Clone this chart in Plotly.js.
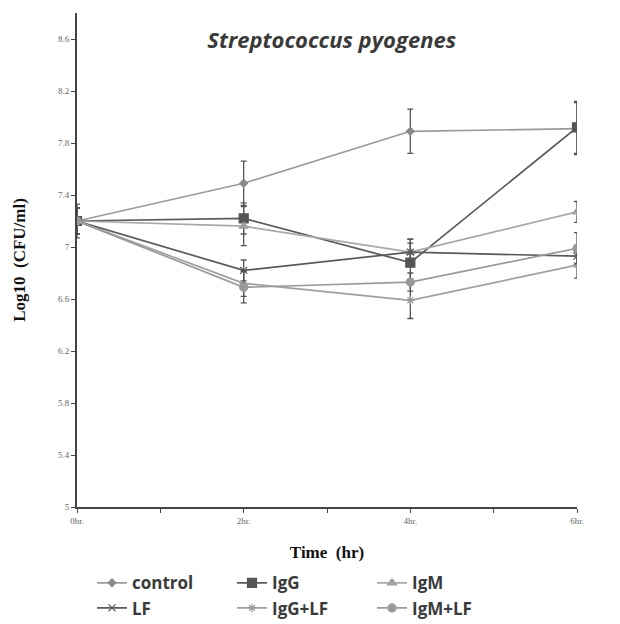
<!DOCTYPE html>
<html>
<head>
<meta charset="utf-8">
<script src="https://cdn.plot.ly/plotly-3.0.1.min.js"></script>
<style>html,body{margin:0;padding:0;background:#fff;}#chart{width:620px;height:624px;}</style>
</head>
<body>
<div id="chart"></div>
<script>
// Data
const hours = [0, 2, 4, 6];
const tickVals = [0, 1, 2, 3, 4, 5, 6];
const tickText = ['0hr.', '', '2hr.', '', '4hr.', '', '6hr.'];

const control   = [7.2, 7.49, 7.89, 7.91];
const controlErr = [0.13, 0.17, 0.17, 0.2];
const igg       = [7.2, 7.22, 6.88, 7.92];
const iggErr    = [0.1, 0.12, 0.15, 0.2];
const igm       = [7.2, 7.16, 6.96, 7.27];
const igmErr    = [0.1, 0.15, 0.1, 0.08];
const lf        = [7.2, 6.82, 6.96, 6.93];
const lfErr     = [0.1, 0.08, 0.1, 0.06];
const iggLf     = [7.2, 6.72, 6.59, 6.86];
const iggLfErr  = [0.1, 0.1, 0.14, 0.1];
const igmLf     = [7.2, 6.69, 6.73, 6.99];
const igmLfErr  = [0.1, 0.12, 0.07, 0.12];

function series(name, y, err, lineColor, markerSymbol, markerColor, markerSize) {
  return {
    type: 'scatter', mode: 'lines+markers', name: name,
    x: hours, y: y,
    line: {color: lineColor, width: 1.7},
    marker: {symbol: markerSymbol, color: markerColor, size: markerSize,
             line: {color: markerColor, width: 1.2}},
    error_y: {type: 'data', array: err, visible: true, color: '#555', thickness: 1.3, width: 3}
  };
}

const data = [
  series('control', control, controlErr, '#9a9a9a', 'diamond', '#8a8a8a', 6),
  series('IgG', igg, iggErr, '#5a5a5a', 'square', '#555', 9),
  series('IgM', igm, igmErr, '#a8a8a8', 'triangle-up', '#a0a0a0', 8),
  series('LF', lf, lfErr, '#5a5a5a', 'x-thin-open', '#555', 7),
  series('IgG+LF', iggLf, iggLfErr, '#a0a0a0', 'asterisk-open', '#999', 7),
  series('IgM+LF', igmLf, igmLfErr, '#9a9a9a', 'circle', '#999', 8)
];

const layout = {
  width: 620, height: 624,
  paper_bgcolor: '#fff', plot_bgcolor: '#fff',
  margin: {l: 77, r: 43, t: 13, b: 117, autoexpand: false},
  showlegend: true,
  title: {text: '<i><b>Streptococcus pyogenes</b></i>',
          font: {family: 'Open Sans, Liberation Sans, sans-serif', size: 22, color: '#3a3a3a'},
          x: 0.535, xanchor: 'center', y: 0.935, yanchor: 'middle'},
  xaxis: {
    range: [0, 6], tickmode: 'array', tickvals: tickVals, ticktext: tickText,
    showgrid: false, zeroline: false, showline: true, linecolor: '#444', linewidth: 2,
    ticks: 'outside', ticklen: 4, tickcolor: '#444',
    tickfont: {family: 'Liberation Serif, serif', size: 9, color: '#666'},
    title: {text: '<b>Time  (hr)</b>', font: {family: 'Liberation Serif, serif', size: 17, color: '#111'}, standoff: 21}
  },
  yaxis: {
    range: [5, 8.8], tick0: 5, dtick: 0.4,
    showgrid: false, zeroline: false, showline: true, linecolor: '#444', linewidth: 2,
    ticks: 'outside', ticklen: 4, tickcolor: '#444',
    tickfont: {family: 'Liberation Serif, serif', size: 9, color: '#666'},
    title: {text: '<b>Log10  (CFU/ml)</b>', font: {family: 'Liberation Serif, serif', size: 17, color: '#111'}, standoff: 28}
  },
  legend: {
    orientation: 'h', x: 0.03, xanchor: 'left', y: -0.118, yanchor: 'top',
    entrywidth: 95, entrywidthmode: 'pixels',
    font: {family: 'Open Sans, Liberation Sans, sans-serif', size: 17, color: '#3a3a3a', weight: 'bold'},
    tracegroupgap: 0, traceorder: 'normal'
  }
};

Plotly.newPlot('chart', data, layout, {displayModeBar: false, staticPlot: true});
</script>
</body>
</html>
